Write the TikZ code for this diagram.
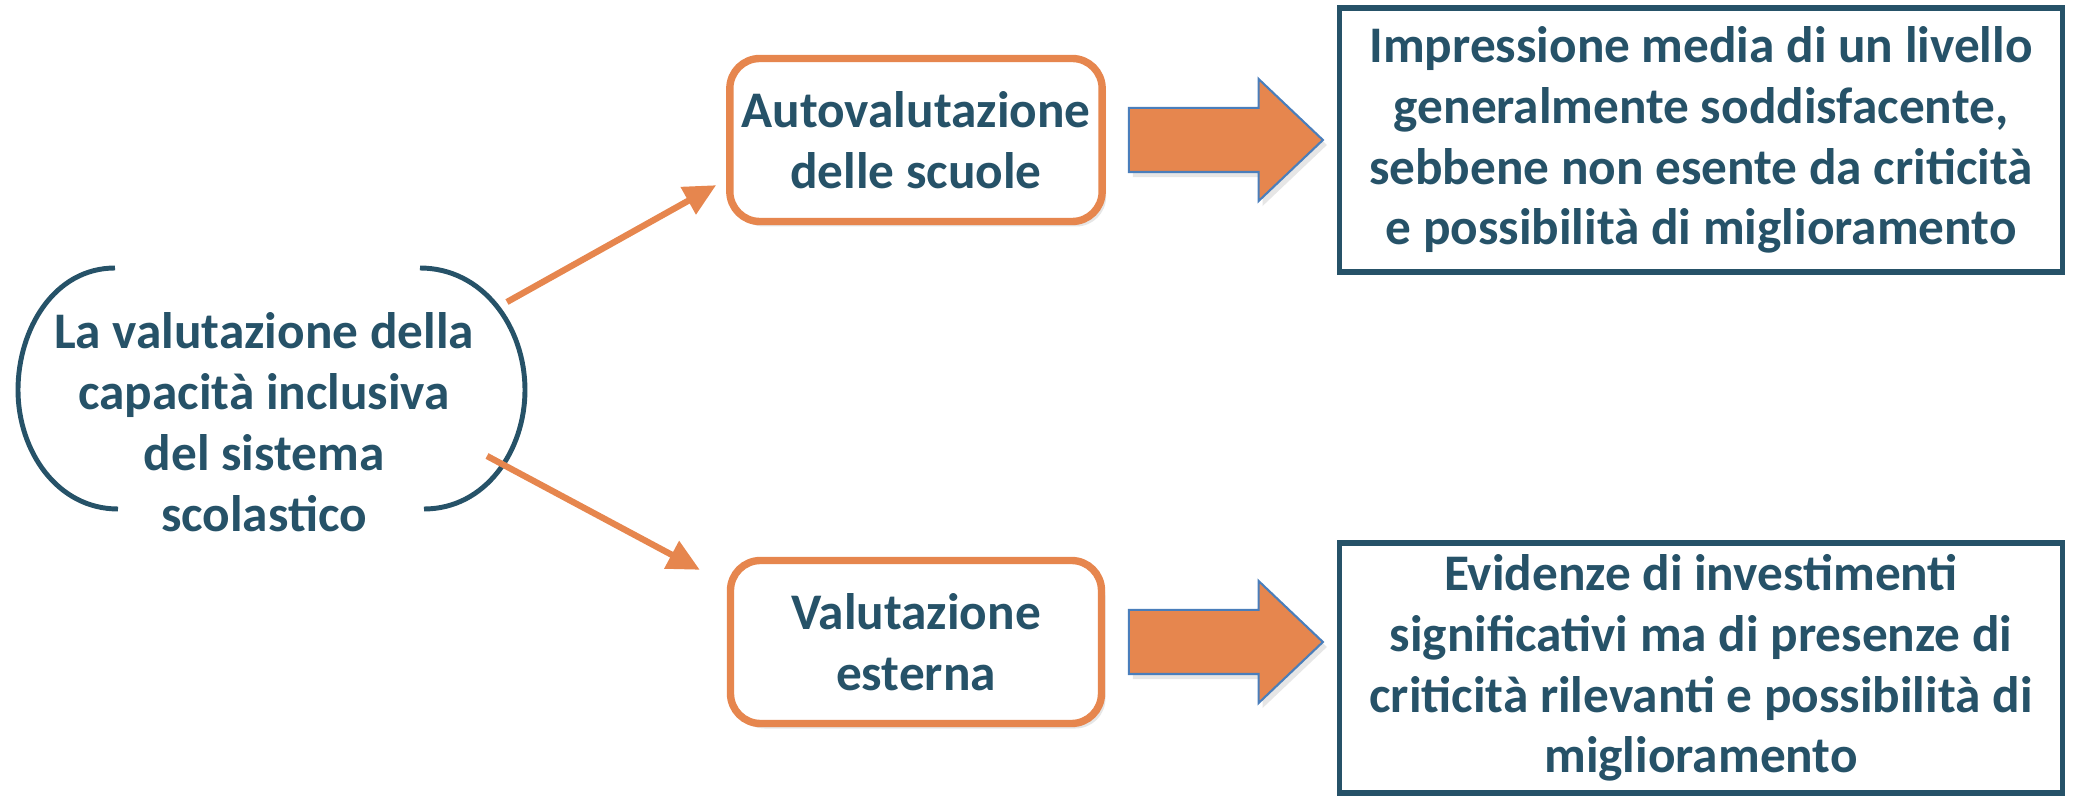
\documentclass[tikz,border=0pt]{standalone}
\usepackage{fontspec}
\setmainfont{Carlito}
\usetikzlibrary{shapes.arrows, arrows.meta, positioning, shadows}
\definecolor{textblue}{HTML}{265268}
\definecolor{boxorange}{HTML}{E6864E}
\definecolor{arrowblue}{HTML}{4A7EBB}
\tikzstyle{every node}=[font=\bfseries\fontsize{14.6}{17.3}\selectfont, text=textblue]
\tikzstyle{stepbox} = [rectangle, draw=boxorange, line width=2.1pt, fill=white, rounded corners=0.3cm, align=center, minimum width=3.71cm, minimum height=1.63cm, drop shadow={opacity=0.2, shadow xshift=0.04cm, shadow yshift=-0.05cm}]
\tikzstyle{result} = [rectangle, draw=textblue, line width=1.6pt, fill=white, align=center, minimum width=7.23cm]
\tikzstyle{bigarrow} = [single arrow, draw=arrowblue, line width=0.6pt, fill=boxorange, minimum height=1.94cm, minimum width=1.2cm, single arrow head extend=0.29cm, single arrow tip angle=87, text height=0.62cm, text depth=0pt, inner sep=0pt, drop shadow={opacity=0.2, shadow xshift=0.04cm, shadow yshift=-0.05cm}]
\tikzstyle{brace} = [draw=textblue, line width=1.4pt]
\tikzstyle{line} = [draw=boxorange, line width=1.8pt, -{Triangle[length=0.32cm, width=0.3cm]}]

\begin{document}
\begin{tikzpicture}
    \useasboundingbox (0,0) rectangle (20.74,-7.97);
    % Place nodes
    \node [align=center] (root) at (2.64,-4.22) {La valutazione della\\capacità inclusiva\\del sistema\\scolastico};
    \node [stepbox, right of=root, node distance=6.52cm, yshift=2.82cm] (auto) {Autovalutazione\\delle scuole};
    \node [stepbox, below of=auto, node distance=5.02cm] (ext) {Valutazione\\esterna};
    \node [bigarrow, right of=auto, node distance=2.93cm] (arrA) {};
    \node [bigarrow, right of=ext, node distance=2.93cm] (arrB) {};
    \node [result, right of=auto, node distance=7.85cm, minimum height=2.64cm] (resA) {Impressione media di un livello\\generalmente soddisfacente,\\sebbene non esente da criticità\\e possibilità di miglioramento};
    \node [result, right of=ext, node distance=7.85cm, yshift=-0.26cm, minimum height=2.46cm] (resB) {Evidenze di investimenti\\significativi ma di presenze di\\criticità rilevanti e possibilità di\\miglioramento};
    % Brackets round the root
    \path [brace] ([shift={(-1.49,1.54)}]root.center) to[out=180,in=90] ([shift={(-2.46,0.32)}]root.center) to[out=-90,in=180] ([shift={(-1.46,-0.87)}]root.center);
    \path [brace] ([shift={(1.56,1.54)}]root.center) to[out=0,in=90] ([shift={(2.61,0.32)}]root.center) to[out=-90,in=0] ([shift={(1.60,-0.87)}]root.center);
    % Draw edges
    \path [line] ([shift={(2.43,1.20)}]root.center) -- ([shift={(-0.10,0.40)}]auto.south west);
    \path [line] ([shift={(2.23,-0.34)}]root.center) -- ([shift={(-0.27,-0.13)}]ext.north west);
\end{tikzpicture}
\end{document}
